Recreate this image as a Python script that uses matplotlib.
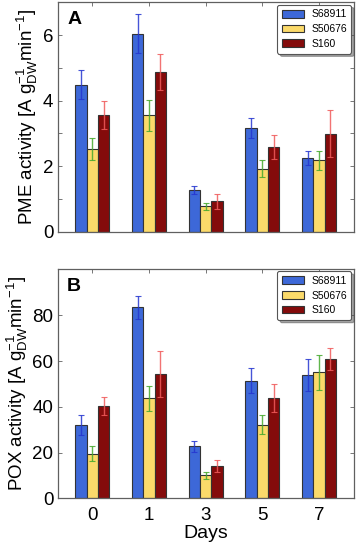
import numpy as np
import matplotlib
matplotlib.use("Agg")
import matplotlib.pyplot as plt
import matplotlib.ticker as ticker

# ── data ────────────────────────────────────────────────────────────────────
days = ["0", "1", "3", "5", "7"]
strains = ["S68911", "S50676", "S160"]

pme_mean = {
    "S68911": [4.49, 6.04, 1.28, 3.17, 2.26],
    "S50676": [2.52, 3.55, 0.78, 1.93, 2.18],
    "S160":   [3.57, 4.87, 0.94, 2.58, 2.99],
}
pme_err = {
    "S68911": [0.43, 0.60, 0.12, 0.30, 0.21],
    "S50676": [0.33, 0.46, 0.10, 0.25, 0.29],
    "S160":   [0.42, 0.54, 0.23, 0.37, 0.71],
}
pme_ticks = [0, 2, 4, 6]

pox_mean = {
    "S68911": [32.0, 83.6, 22.7, 51.5, 53.9],
    "S50676": [19.6, 43.7, 10.1, 32.2, 55.1],
    "S160":   [40.4, 54.4, 14.2, 44.0, 60.8],
}
pox_err = {
    "S68911": [4.3, 5.1, 2.4, 5.4, 6.9],
    "S50676": [3.1, 5.6, 1.6, 4.1, 7.5],
    "S160":   [4.0, 9.9, 2.6, 6.1, 4.8],
}
pox_ticks = [0, 20, 40, 60, 80]

# ── style ───────────────────────────────────────────────────────────────────
BAR_COLORS = {"S68911": "#3d68d8", "S50676": "#fbda6a", "S160": "#840b0b"}
ERR_COLORS = {"S68911": "#2536d0", "S50676": "#45a92c", "S160": "#f05a5a"}
SPINE_COLOR = "#606060"
BAR_W = 0.2

plt.rcParams.update({
    "font.family": "Liberation Sans",
    "mathtext.default": "regular",
    "xtick.direction": "in",
    "ytick.direction": "in",
    "xtick.major.size": 3,
    "ytick.major.size": 3,
    "ytick.minor.size": 3,
})

fig = plt.figure(figsize=(3.58, 5.47), dpi=100)
ax_a = fig.add_axes([0.163, 0.576, 0.826, 0.420])
ax_b = fig.add_axes([0.163, 0.089, 0.826, 0.420])

x = np.arange(len(days))


def draw_panel(ax, means, errs, ylim, yticks, minor, letter, ylabel):
    for i, s in enumerate(strains):
        xs = x + (i - 1) * BAR_W
        ax.bar(xs, means[s], width=BAR_W, color=BAR_COLORS[s],
               edgecolor="#333333", linewidth=0.8, label=s, zorder=2)
        ax.errorbar(xs, means[s], yerr=errs[s], fmt="none",
                    ecolor=ERR_COLORS[s], elinewidth=1.0, capsize=2,
                    capthick=0.8, alpha=0.85, zorder=3)
    ax.set_xlim(-0.6, 4.62)
    ax.set_ylim(*ylim)
    ax.set_xticks(x)
    ax.set_yticks(yticks)
    if minor:
        ax.yaxis.set_minor_locator(ticker.MultipleLocator(minor))
    ax.tick_params(which="both", top=True, right=True, labelsize=13.5,
                   color=SPINE_COLOR, width=0.6)
    ax.tick_params(axis="x", pad=6)
    for sp in ax.spines.values():
        sp.set_color(SPINE_COLOR)
        sp.set_linewidth(0.9)
    ax.set_ylabel(ylabel, fontsize=13.5, labelpad=2)
    ax.text(0.03, 0.96, letter, transform=ax.transAxes, fontsize=14,
            fontweight="bold", ha="left", va="top")
    leg = ax.legend(loc="upper right", fontsize=7.5, fancybox=True,
                    shadow=True, framealpha=1, edgecolor="#555555",
                    borderaxespad=0.25, handlelength=2.1, handleheight=0.75,
                    labelspacing=0.45, borderpad=0.45, handletextpad=0.7)
    leg.get_frame().set_linewidth(0.8)


draw_panel(ax_a, pme_mean, pme_err, (0, 7), pme_ticks, 1, "A",
           r"PME activity [A g$_{DW}^{-1}$min$^{-1}$]")
draw_panel(ax_b, pox_mean, pox_err, (0, 100.5), pox_ticks, None, "B",
           r"POX activity [A g$_{DW}^{-1}$min$^{-1}$]")

ax_a.tick_params(axis="x", labelbottom=False)
ax_b.set_xticklabels(days)
ax_b.set_xlabel("Days", fontsize=14, labelpad=1)

fig.savefig("out.png", dpi=100)
